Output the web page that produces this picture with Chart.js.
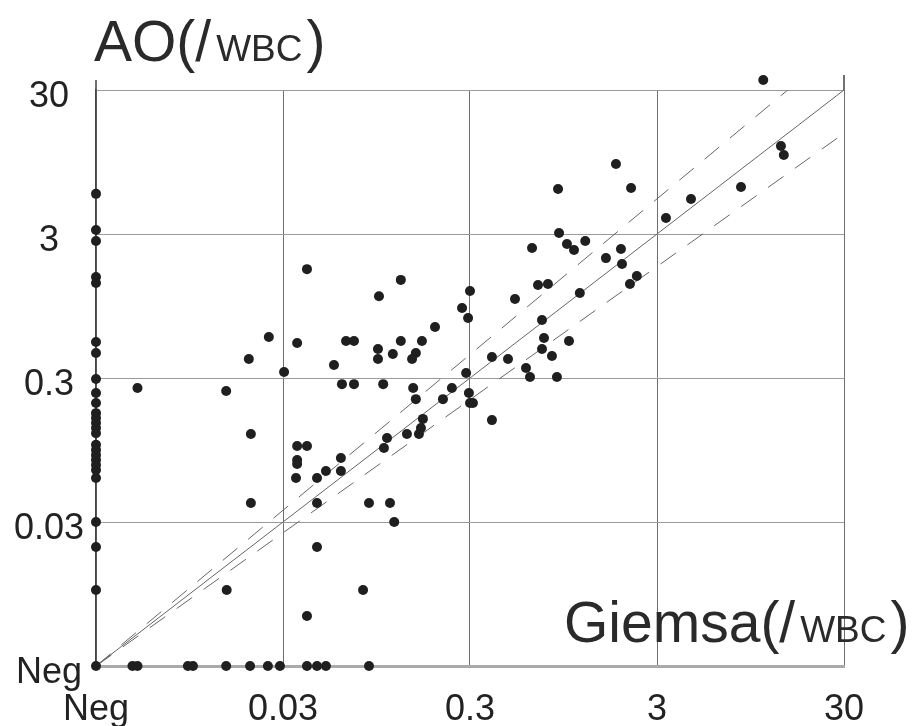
<!DOCTYPE html>
<html>
<head>
<meta charset="utf-8">
<script src="https://cdn.jsdelivr.net/npm/chart.js@4/dist/chart.umd.min.js"></script>
<style>
  html, body { margin: 0; padding: 0; background: #fff; }
  canvas { display: block; }
</style>
</head>
<body>
<canvas id="aoChart" width="924" height="726"></canvas>
<script>
// "Neg" is drawn one decade below 0.03
const NEG = 0.003;
const tickValues = [NEG, 0.03, 0.3, 3, 30];
const tickLabels = ['Neg', '0.03', '0.3', '3', '30'];

// AO (/WBC) of samples negative by Giemsa (sit on the Neg column)
const aoWhenGiemsaNeg = [5.7, 3.2, 2.68, 1.51, 1.37, 0.533, 0.448, 0.295, 0.236, 0.201,
  0.171, 0.158, 0.146, 0.135, 0.124, 0.103, 0.095, 0.0875, 0.081, 0.0746,
  0.069, 0.0607, 0.030, 0.0201, 0.0101];

// Giemsa (/WBC) of samples negative by AO (sit on the Neg row)
const giemsaWhenAoNeg = [0.0047, 0.0050, 0.0093, 0.0099, 0.0149, 0.020, 0.0249, 0.0289,
  0.0403, 0.0456, 0.0509, 0.0865];

// samples positive by both methods
const giemsa = [
  0.0050, 0.0149, 0.0150, 0.0197, 0.0202, 0.0202, 0.0252, 0.0304, 0.0357, 0.0403,
  0.0357, 0.0403, 0.0357, 0.0357, 0.0352, 0.0456, 0.0509, 0.0612, 0.0612, 0.0456,
  0.0456, 0.0403, 0.0562, 0.0620, 0.0719, 0.0652, 0.0719, 0.0804, 0.0865, 0.112,
  0.118, 0.0978, 0.0966, 0.0966, 0.103, 0.108, 0.104, 0.116, 0.128, 0.128,
  0.138, 0.160, 0.164, 0.168, 0.149, 0.154, 0.147, 0.154, 0.166, 0.215,
  0.195, 0.240, 0.272, 0.293, 0.300, 0.286, 0.296, 0.300, 0.311, 0.393,
  0.393, 0.479, 0.522, 0.598, 0.628, 0.875, 0.823, 0.728, 0.746, 1.015,
  0.728, 0.644, 0.693, 0.783, 0.898, 0.887, 0.990, 1.08, 1.24, 1.16,
  1.60, 1.81, 1.925, 1.95, 2.18, 2.15, 2.34, 3.35, 4.56, 8.44,
  11.1, 13.8, 14.3
];
const ao = [
  0.256, 0.244, 0.0101, 0.406, 0.1225, 0.0406, 0.578, 0.330, 0.525, 1.71,
  0.101, 0.101, 0.0808, 0.0758, 0.0606, 0.0606, 0.0678, 0.0678, 0.0834, 0.0406,
  0.0201, 0.00668, 0.369, 0.272, 0.272, 0.542, 0.542, 0.0101, 0.0406, 0.0406,
  0.0300, 1.11, 0.477, 0.406, 0.272, 0.115, 0.098, 0.440, 1.44, 0.542,
  0.1225, 0.1225, 0.135, 0.156, 0.256, 0.214, 0.406, 0.448, 0.542, 0.214,
  0.678, 0.256, 0.919, 0.783, 1.205, 0.325, 0.236, 0.201, 0.201, 0.153,
  0.420, 0.406, 1.06, 0.352, 0.305, 0.305, 0.427, 0.477, 0.569, 0.542,
  0.758, 2.40, 1.327, 1.349, 3.05, 6.16, 2.556, 2.32, 2.68, 1.167,
  2.04, 9.19, 2.36, 1.857, 6.26, 1.349, 1.532, 3.87, 5.25, 6.36,
  35.2, 12.25, 10.6
];

// identity line and the two dashed limits (end points)
const identityLine = [[NEG, NEG], [30, 30]];
const upperLimit = [[NEG, NEG], [15, 30]];
const lowerLimit = [[NEG, NEG], [30, 15]];

const yTitle = ['AO(/', 'WBC', ')'];
const xTitle = ['Giemsa(/', 'WBC', ')'];

// build point list
const points = [{ x: NEG, y: NEG }];
aoWhenGiemsaNeg.forEach(v => points.push({ x: NEG, y: v }));
giemsaWhenAoNeg.forEach(v => points.push({ x: v, y: NEG }));
giemsa.forEach((g, i) => points.push({ x: g, y: ao[i] }));

const toXY = arr => arr.map(p => ({ x: p[0], y: p[1] }));

const FONT = '"Liberation Sans", Arial, sans-serif';

// draws the two mixed-size axis titles and the little axis overhangs
const extrasPlugin = {
    id: 'extras',
    // let the one point above 30 be drawn (points outside chartArea are culled)
    beforeDatasetDraw(chart, args) {
        if (args.index !== 0) return;
        chart._savedArea = chart.chartArea;
        chart.chartArea = Object.assign({}, chart.chartArea, { top: chart.chartArea.top - 30 });
    },
    afterDatasetDraw(chart, args) {
        if (args.index !== 0 || !chart._savedArea) return;
        chart.chartArea = chart._savedArea;
        chart._savedArea = null;
    },
    afterDraw(chart) {
        const ctx = chart.ctx;
        const xs = chart.scales.x, ys = chart.scales.y;
        const left = xs.getPixelForValue(NEG);
        const right = xs.getPixelForValue(30);
        const top = ys.getPixelForValue(30);

        ctx.save();
        ctx.strokeStyle = '#444';
        ctx.lineWidth = 1.5;
        ctx.beginPath();
        ctx.moveTo(left, top - 10); ctx.lineTo(left, top);
        ctx.moveTo(right, top - 15); ctx.lineTo(right, top);
        ctx.stroke();

        const drawTitle = (parts, x, y) => {
            ctx.fillStyle = '#2a2a2a';
            ctx.textBaseline = 'alphabetic';
            ctx.textAlign = 'left';
            ctx.font = '57px ' + FONT;
            ctx.fillText(parts[0], x, y);
            x += ctx.measureText(parts[0]).width + 5;
            ctx.font = '37px ' + FONT;
            ctx.fillText(parts[1], x, y);
            x += ctx.measureText(parts[1]).width + 4;
            ctx.font = '57px ' + FONT;
            ctx.fillText(parts[2], x, y);
        };
        drawTitle(yTitle, 94, 61);
        drawTitle(xTitle, 564, 642);
        ctx.restore();
    }
};

const setTicks = scale => { scale.ticks = tickValues.map(v => ({ value: v })); };

new Chart(document.getElementById('aoChart'), {
    type: 'scatter',
    data: {
        datasets: [
            {
                data: points,
                backgroundColor: '#1f1f1f',
                borderWidth: 0,
                pointRadius: 5,
                clip: false
            },
            {
                type: 'line',
                data: toXY(identityLine),
                borderColor: '#666',
                borderWidth: 1,
                pointRadius: 0,
                fill: false
            },
            {
                type: 'line',
                data: toXY(upperLimit),
                borderColor: '#666',
                borderWidth: 1,
                borderDash: [19, 14],
                pointRadius: 0,
                fill: false
            },
            {
                type: 'line',
                data: toXY(lowerLimit),
                borderColor: '#666',
                borderWidth: 1,
                borderDash: [19, 14],
                pointRadius: 0,
                fill: false
            }
        ]
    },
    options: {
        responsive: false,
        animation: false,
        devicePixelRatio: 1,
        layout: { padding: { left: 0, top: 90, right: 80, bottom: 0 } },
        plugins: {
            legend: { display: false },
            tooltip: { enabled: false }
        },
        scales: {
            x: {
                type: 'logarithmic',
                min: NEG,
                max: 30,
                afterBuildTicks: setTicks,
                afterFit: s => { s.height = 60; },
                ticks: {
                    autoSkip: false,
                    maxRotation: 0,
                    padding: 22,
                    color: '#222',
                    font: { family: FONT, size: 36 },
                    callback: (v, i) => tickLabels[i]
                },
                grid: { color: '#6f6f6f', lineWidth: 1, drawTicks: false },
                border: { color: '#aaa', width: 3 }
            },
            y: {
                type: 'logarithmic',
                min: NEG,
                max: 30,
                afterBuildTicks: setTicks,
                afterFit: s => { s.width = 96; },
                ticks: {
                    autoSkip: false,
                    crossAlign: 'center',
                    padding: 12,
                    labelOffset: 7,
                    color: '#222',
                    font: { family: FONT, size: 36 },
                    callback: (v, i) => tickLabels[i]
                },
                grid: { color: '#9a9a9a', lineWidth: 1, drawTicks: false },
                border: { color: '#444', width: 1.5 }
            }
        }
    },
    plugins: [extrasPlugin]
});
</script>
</body>
</html>
